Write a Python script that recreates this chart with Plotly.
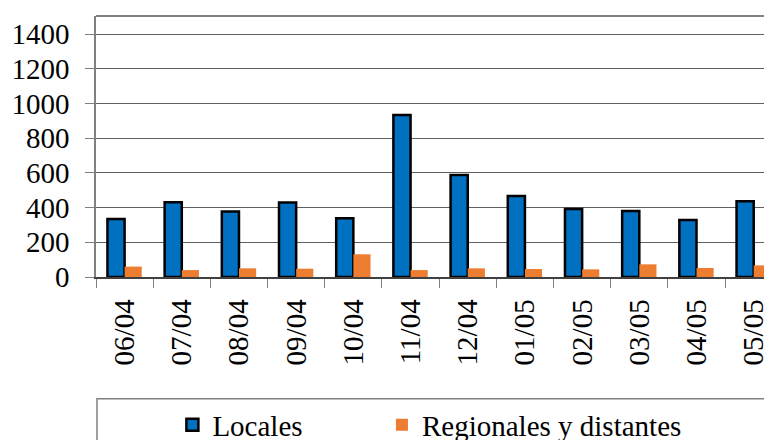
import plotly.graph_objects as go

months = ["06/04", "07/04", "08/04", "09/04", "10/04", "11/04",
          "12/04", "01/05", "02/05", "03/05", "04/05", "05/05"]
locales = [334, 431, 377, 429, 339, 934, 588, 467, 392, 381, 329, 437]
regionales = [60, 40, 50, 48, 131, 40, 50, 46, 44, 73, 52, 67]
y_ticks = [0, 200, 400, 600, 800, 1000, 1200, 1400]

FONT = "Liberation Serif"
FS = 29

fig = go.Figure()
fig.add_trace(go.Bar(x=months, y=locales, name="Locales", legend="legend",
                     marker=dict(color="#0070C0", line=dict(color="black", width=2.5))))
fig.add_trace(go.Bar(x=months, y=regionales, name="Regionales y distantes", legend="legend2",
                     marker=dict(color="#ED7D31", line=dict(width=0))))

leg_common = dict(orientation="h", y=-0.567, xanchor="left", yanchor="middle",
                  xref="paper", yref="paper",
                  font=dict(family=FONT, size=FS, color="black"),
                  bgcolor="rgba(0,0,0,0)", borderwidth=0)

fig.update_layout(
    template="none",
    width=772, height=452,
    margin=dict(l=88, r=8, t=8, b=183, pad=0),
    paper_bgcolor="white", plot_bgcolor="white",
    barmode="group", bargap=0.4, bargroupgap=0,
    font=dict(family=FONT, size=FS, color="black"),
    showlegend=True,
    legend=dict(x=0.113, **leg_common),
    legend2=dict(x=0.423, **leg_common),
    shapes=[
        dict(type="rect", xref="paper", yref="paper", x0=0.0015, x1=1.2,
             y0=-0.466, y1=-0.9, line=dict(color="#808080", width=1.5)),
        dict(type="line", xref="paper", yref="paper", x0=0, x1=1, y0=1, y1=1,
             line=dict(color="#808080", width=2)),
    ],
)
fig.update_xaxes(
    type="category", range=[-0.5, 11.32], tickangle=-90, automargin=False,
    tickson="boundaries", ticks="outside", ticklen=9, tickcolor="#808080",
    showline=True, linecolor="#404040", linewidth=1.5,
    showgrid=False, zeroline=False, ticklabelstandoff=9,
    tickfont=dict(family=FONT, size=FS, color="black"),
)
fig.update_yaxes(
    range=[0, 1505], tickvals=y_ticks, ticktext=[str(v) for v in y_ticks],
    automargin=False,
    ticks="outside", ticklen=9, tickcolor="#808080",
    showline=True, linecolor="#808080", linewidth=1.5,
    showgrid=True, gridcolor="#606060", gridwidth=1, zeroline=False,
    ticklabelstandoff=10,
    tickfont=dict(family=FONT, size=FS, color="black"),
)

fig.write_html("out.html")
